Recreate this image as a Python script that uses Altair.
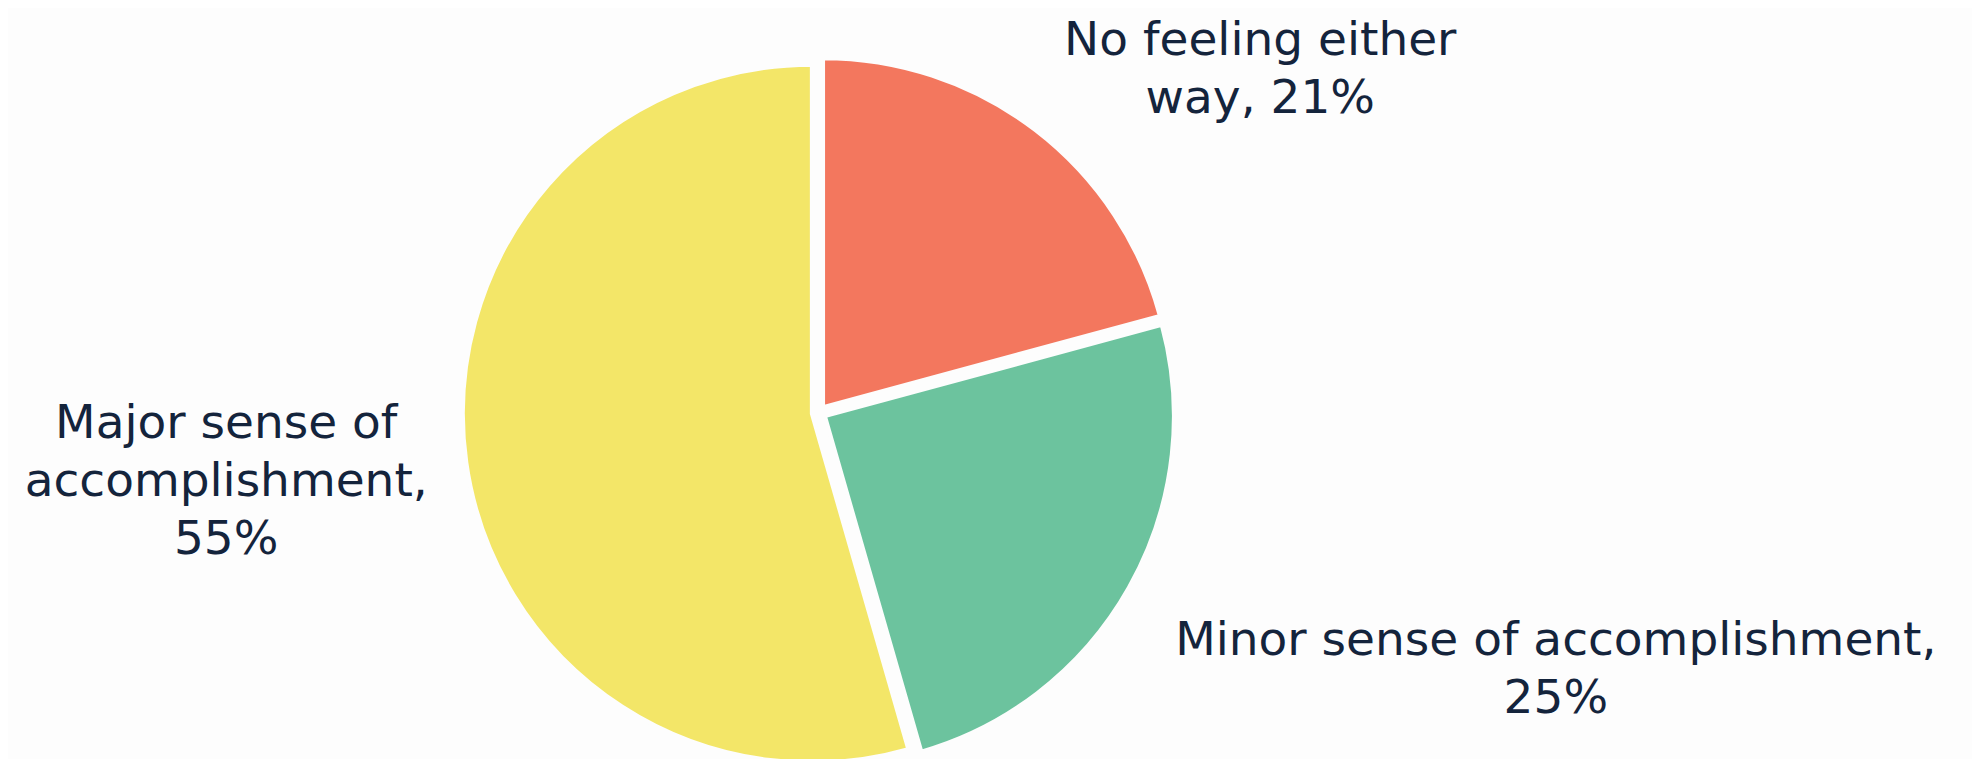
import math
import altair as alt
import pandas as pd

# ---- data ----
categories = ["No feeling either way", "Minor sense of accomplishment", "Major sense of accomplishment"]
values = [21, 25, 55]
label_lines = [
    ["No feeling either", "way, 21%"],
    ["Minor sense of accomplishment,", "25%"],
    ["Major sense of", "accomplishment,", "55%"],
]
colors = ["#F3775E", "#6CC39E", "#F3E668"]

# ---- styling / layout constants ----
BG = "#FDFDFD"
TEXT_COLOR = "#14243C"
FONT = "DejaVu Sans"
FONT_SIZE = 47
LINE_HEIGHT = 58
CX, CY = 810.8, 404.7      # pie centre (px)
RADIUS = 349
EXPLODE = 7
LABEL_R = 450
label_offsets = {           # (dx, dy) nudges of manually placed labels
    "No feeling either way": (168, 0),
    "Minor sense of accomplishment": (345, 21),
    "Major sense of accomplishment": (-147, -37),
}

total = sum(values)
df = pd.DataFrame({
    "category": categories,
    "value": values,
    "idx": list(range(len(values))),
    "label": ["\n".join(l) for l in label_lines],
})

base = (
    alt.Chart(df)
    .transform_window(cum="sum(value)", sort=[alt.SortField("idx")])
    .transform_calculate(
        start="datum.cum - datum.value",
        mid=f"(datum.cum - datum.value/2) / {total} * 2 * PI",
    )
    .transform_calculate(
        px=f"{CX} + {EXPLODE} * sin(datum.mid)",
        py=f"{CY} - {EXPLODE} * cos(datum.mid)",
        lx=f"{CX} + {LABEL_R} * sin(datum.mid)",
        ly=f"{CY} - {LABEL_R} * cos(datum.mid)",
    )
)

theta_scale = alt.Scale(domain=[0, total], range=[0, 2 * math.pi])

arcs = base.mark_arc(outerRadius=RADIUS, stroke=BG, strokeWidth=4).encode(
    theta=alt.Theta("start:Q", scale=theta_scale, stack=None),
    theta2=alt.Theta2("cum:Q"),
    x=alt.X("px:Q", scale=None),
    y=alt.Y("py:Q", scale=None),
    color=alt.Color("category:N", scale=alt.Scale(domain=categories, range=colors), legend=None),
)

layers = [arcs]
for cat in categories:
    dx, dy = label_offsets[cat]
    layers.append(
        base.transform_filter(alt.datum.category == cat)
        .mark_text(
            align="center",
            baseline="alphabetic",
            font=FONT,
            fontSize=FONT_SIZE,
            lineHeight=LINE_HEIGHT,
            lineBreak="\n",
            color=TEXT_COLOR,
            dx=dx,
            dy=dy,
        )
        .encode(
            x=alt.X("lx:Q", scale=None),
            y=alt.Y("ly:Q", scale=None),
            text="label:N",
        )
    )

chart = (
    alt.layer(*layers)
    .properties(
        width=1964,
        height=760,
        background=BG,
        padding=0,
        autosize=alt.AutoSizeParams(type="none"),
    )
    .configure_view(stroke=None)
)

chart.save("out.html", embed_options={"renderer": "svg", "actions": False})
